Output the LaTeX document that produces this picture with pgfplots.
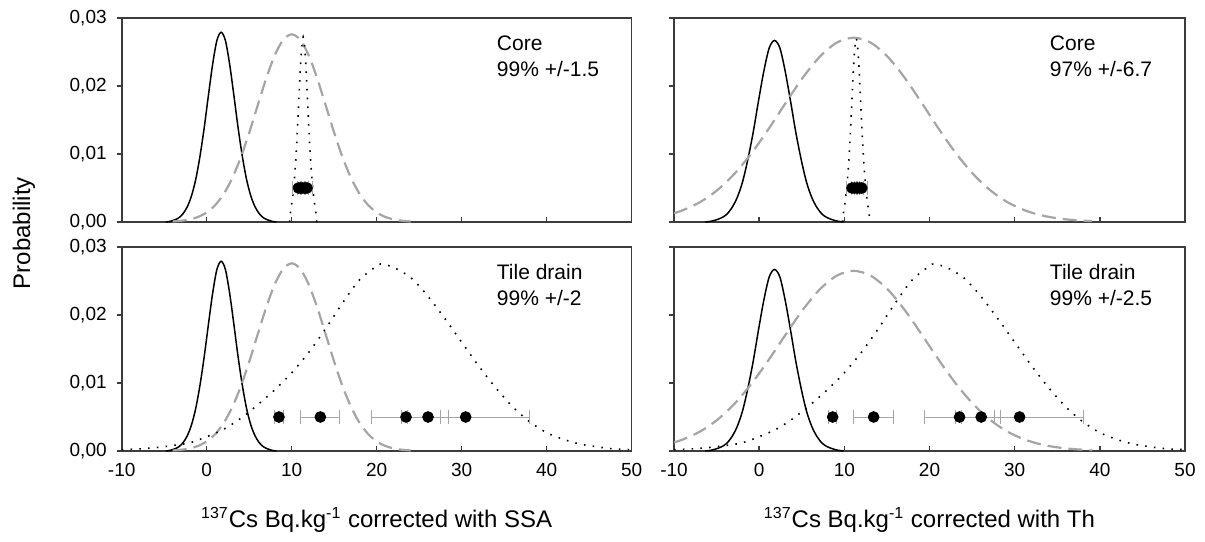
\documentclass[border=0pt]{standalone}
\usepackage{fontspec}
\setmainfont{Liberation Sans}
\usepackage{pgfplots}
\pgfplotsset{compat=1.18}
\definecolor{axisgray}{RGB}{60,60,60}
\definecolor{dashgray}{RGB}{165,165,165}
\definecolor{errgray}{RGB}{165,165,165}
\tikzset{ann/.style={anchor=base west, font=\fontsize{10.5}{12}\selectfont, inner sep=0pt}}
\pgfplotsset{
  panel/.style={
    scale only axis, width=255pt, height=102pt,
    xmin=-10, xmax=50, ymin=0, ymax=0.03,
    xtick={-10,0,10,20,30,40,50}, ytick={0,0.01,0.02,0.03},
    scaled y ticks=false,
    tick align=inside, xtick pos=bottom, ytick pos=left,
    major tick length=2.5pt,
    ytick style={xshift=-2.5pt},
    axis line style={draw=axisgray, line width=0.8pt},
    tick style={draw=axisgray, line width=0.8pt},
    /pgf/number format/assume math mode=true,
    yticklabel style={/pgf/number format/fixed, /pgf/number format/fixed zerofill, /pgf/number format/precision=2, /pgf/number format/use comma, xshift=-4pt},
    xticklabel style={/pgf/number format/fixed, yshift=-2.5pt},
    ticklabel style={font=\fontsize{9.5}{11}\selectfont},
    clip=true,
  },
  solidc/.style={black, line width=0.75pt, smooth, no marks},
  dashc/.style={dashgray, line width=1.1pt, dash pattern=on 7pt off 3.5pt, smooth, no marks},
  dotc/.style={black, line width=0.8pt, dash pattern=on 0.8pt off 3.6pt, smooth, no marks},
  dots/.style={only marks, mark=*, mark size=2.7pt, black,
    error bars/.cd, x dir=both, x explicit,
    error bar style={draw=errgray, line width=0.5pt},
    error mark options={rotate=90, draw=errgray, mark size=3.7pt, line width=0.5pt}},
}
\begin{document}
\begin{tikzpicture}
\useasboundingbox (0,0) rectangle (602.5pt,-270.5pt);
% ---------------- top left
\begin{axis}[panel, at={(60.85pt,-111pt)}, anchor=south west, xticklabels={}]
\addplot[solidc] coordinates {(-4.8,0) (-4.3,0.0001) (-3.8,0.0003) (-3.3,0.0006) (-2.8,0.0012) (-2.3,0.0022) (-1.8,0.0038) (-1.3,0.0062) (-0.8,0.0096) (-0.3,0.0138) (0.2,0.0186) (0.7,0.0232) (1.2,0.0267) (1.7,0.0279) (2.2,0.0267) (2.7,0.0232) (3.2,0.0186) (3.7,0.0138) (4.2,0.0096) (4.7,0.0062) (5.2,0.0038) (5.7,0.0022) (6.2,0.0012) (6.7,0.0006) (7.2,0.0003) (7.7,0.0001) (8.2,0)};
\addplot[dashc] coordinates {(-4,0.00008) (-3,0.00018) (-2,0.00038) (-1,0.00075) (0,0.00141) (1,0.00248) (2,0.00411) (3,0.00643) (4,0.00946) (5,0.01312) (6,0.01715) (7,0.02112) (8,0.02450) (9,0.02679) (10,0.0276) (11,0.02679) (12,0.02450) (13,0.02112) (14,0.01715) (15,0.01312) (16,0.00946) (17,0.00643) (18,0.00411) (19,0.00248) (20,0.00141) (21,0.00075) (22,0.00038) (23,0.00018) (24,0.00008)};
\addplot[dotc] coordinates {(9.75,0) (9.85,0.00136) (10.1,0.00354) (10.35,0.0068) (10.6,0.0117) (10.85,0.01822) (11.1,0.02448) (11.35,0.0272) (11.6,0.02448) (11.85,0.01822) (12.1,0.0117) (12.35,0.0068) (12.6,0.00354) (12.85,0.00136) (12.95,0)};
\addplot[dots] table[x=x, y=y, x error=e] {
x y e
10.8 0.005 0.7
11.05 0.005 0.4
11.3 0.005 0.3
11.55 0.005 0.4
11.8 0.005 0.7
};
\node[ann] at (axis cs:34.1,0.0252) {Core};
\node[ann] at (axis cs:34.1,0.02147) {99\% +/-1.5};
\end{axis}
% ---------------- top right
\begin{axis}[panel, width=255.5pt, at={(337pt,-111pt)}, anchor=south west, xticklabels={}, yticklabels={}]
\addplot[solidc] coordinates {(-6.33,0) (-5.7,0.0001) (-5.08,0.0003) (-4.45,0.0006) (-3.83,0.0011) (-3.2,0.0021) (-2.58,0.0036) (-1.95,0.0059) (-1.33,0.0092) (-0.7,0.0132) (-0.08,0.0178) (0.55,0.0222) (1.18,0.0256) (1.8,0.0267) (2.43,0.0256) (3.05,0.0222) (3.68,0.0178) (4.3,0.0132) (4.93,0.0092) (5.55,0.0059) (6.18,0.0036) (6.8,0.0021) (7.43,0.0011) (8.05,0.0006) (8.68,0.0003) (9.3,0.0001) (9.93,0)};
\addplot[dashc] coordinates {(-10,0.00129) (-8.9,0.00176) (-6.9,0.00295) (-4.9,0.00470) (-2.9,0.00709) (-0.9,0.01012) (1.1,0.01367) (3.1,0.01749) (5.1,0.02119) (7.1,0.02429) (9.1,0.02637) (11.1,0.0271) (13.1,0.02637) (15.1,0.02429) (17.1,0.02119) (19.1,0.01749) (21.1,0.01367) (23.1,0.01012) (25.1,0.00709) (27.1,0.00470) (29.1,0.00295) (31.1,0.00176) (33.1,0.00099) (35.1,0.00053) (37.1,0.00027) (39.1,0.00013)};
\addplot[dotc] coordinates {(9.8,0) (9.9,0.00135) (10.15,0.00351) (10.4,0.00675) (10.65,0.01161) (10.9,0.01809) (11.15,0.0243) (11.4,0.027) (11.65,0.0243) (11.9,0.01809) (12.15,0.01161) (12.4,0.00675) (12.65,0.00351) (12.9,0.00135) (13.0,0)};
\addplot[dots] table[x=x, y=y, x error=e] {
x y e
10.9 0.005 0.65
11.2 0.005 0.4
11.5 0.005 0.3
11.8 0.005 0.4
12.05 0.005 0.65
};
\node[ann] at (axis cs:34.1,0.0252) {Core};
\node[ann] at (axis cs:34.1,0.02147) {97\% +/-6.7};
\end{axis}
% ---------------- bottom left
\begin{axis}[panel, at={(60.85pt,-225.5pt)}, anchor=south west]
\addplot[solidc] coordinates {(-4.8,0) (-4.3,0.0001) (-3.8,0.0003) (-3.3,0.0006) (-2.8,0.0012) (-2.3,0.0022) (-1.8,0.0038) (-1.3,0.0062) (-0.8,0.0096) (-0.3,0.0138) (0.2,0.0186) (0.7,0.0232) (1.2,0.0267) (1.7,0.0279) (2.2,0.0267) (2.7,0.0232) (3.2,0.0186) (3.7,0.0138) (4.2,0.0096) (4.7,0.0062) (5.2,0.0038) (5.7,0.0022) (6.2,0.0012) (6.7,0.0006) (7.2,0.0003) (7.7,0.0001) (8.2,0)};
\addplot[dashc] coordinates {(-4,0.00008) (-3,0.00018) (-2,0.00038) (-1,0.00075) (0,0.00141) (1,0.00248) (2,0.00411) (3,0.00643) (4,0.00946) (5,0.01312) (6,0.01715) (7,0.02112) (8,0.02450) (9,0.02679) (10,0.0276) (11,0.02679) (12,0.02450) (13,0.02112) (14,0.01715) (15,0.01312) (16,0.00946) (17,0.00643) (18,0.00411) (19,0.00248) (20,0.00141) (21,0.00075) (22,0.00038) (23,0.00018) (24,0.00008)};
\addplot[dotc] coordinates {(-10,0.0002) (-8,0.0003) (-6,0.0005) (-4,0.0008) (-2,0.0012) (0,0.0021) (2,0.0032) (4,0.0048) (6,0.0068) (8,0.0090) (10,0.0115) (12,0.0145) (14,0.0180) (16,0.0218) (18,0.0252) (20,0.0272) (20.5,0.0275) (22,0.0270) (24,0.0255) (26,0.0228) (28,0.0195) (30,0.0160) (32,0.0125) (34,0.0093) (36,0.0065) (38,0.0043) (40,0.0027) (42,0.0017) (44,0.0010) (46,0.0006) (48,0.0003) (50,0.0002)};
\addplot[dots] table[x=x, y=y, x error=e] {
x y e
8.5 0.005 0.5
13.37 0.005 2.3
23.45 0.005 4.1
26.04 0.005 2.36
30.47 0.005 7.5
};
\node[ann] at (axis cs:34.1,0.0252) {Tile drain};
\node[ann] at (axis cs:34.1,0.02147) {99\% +/-2};
\end{axis}
% ---------------- bottom right
\begin{axis}[panel, width=255.5pt, at={(337pt,-225.5pt)}, anchor=south west, yticklabels={}]
\addplot[solidc] coordinates {(-6.33,0) (-5.7,0.0001) (-5.08,0.0003) (-4.45,0.0006) (-3.83,0.0011) (-3.2,0.0021) (-2.58,0.0036) (-1.95,0.0059) (-1.33,0.0092) (-0.7,0.0132) (-0.08,0.0178) (0.55,0.0222) (1.18,0.0256) (1.8,0.0267) (2.43,0.0256) (3.05,0.0222) (3.68,0.0178) (4.3,0.0132) (4.93,0.0092) (5.55,0.0059) (6.18,0.0036) (6.8,0.0021) (7.43,0.0011) (8.05,0.0006) (8.68,0.0003) (9.3,0.0001) (9.93,0)};
\addplot[dashc] coordinates {(-10,0.00126) (-8.9,0.00172) (-6.9,0.00289) (-4.9,0.00460) (-2.9,0.00694) (-0.9,0.00990) (1.1,0.01337) (3.1,0.01711) (5.1,0.02072) (7.1,0.02375) (9.1,0.02578) (11.1,0.0265) (13.1,0.02578) (15.1,0.02375) (17.1,0.02072) (19.1,0.01711) (21.1,0.01337) (23.1,0.00990) (25.1,0.00694) (27.1,0.00460) (29.1,0.00289) (31.1,0.00172) (33.1,0.00097) (35.1,0.00052) (37.1,0.00026) (39.1,0.00012)};
\addplot[dotc] coordinates {(-10,0.0002) (-8,0.0003) (-6,0.0005) (-4,0.0008) (-2,0.0012) (0,0.0021) (2,0.0032) (4,0.0048) (6,0.0068) (8,0.0090) (10,0.0115) (12,0.0145) (14,0.0180) (16,0.0218) (18,0.0252) (20,0.0272) (20.5,0.0275) (22,0.0270) (24,0.0255) (26,0.0228) (28,0.0195) (30,0.0160) (32,0.0125) (34,0.0093) (36,0.0065) (38,0.0043) (40,0.0027) (42,0.0017) (44,0.0010) (46,0.0006) (48,0.0003) (50,0.0002)};
\addplot[dots] table[x=x, y=y, x error=e] {
x y e
8.63 0.005 0.5
13.44 0.005 2.35
23.53 0.005 4.1
26.07 0.005 2.3
30.58 0.005 7.47
};
\node[ann] at (axis cs:34.1,0.0252) {Tile drain};
\node[ann] at (axis cs:34.1,0.02147) {99\% +/-2.5};
\end{axis}
% ---------------- labels
\node[anchor=base, font=\fontsize{12}{14}\selectfont] at (188.35pt,-263.5pt) {\textsuperscript{137}Cs Bq.kg\textsuperscript{-1} corrected with SSA};
\node[anchor=base, font=\fontsize{12}{14}\selectfont] at (464.75pt,-263.5pt) {\textsuperscript{137}Cs Bq.kg\textsuperscript{-1} corrected with Th};
\node[rotate=90, font=\fontsize{12}{14}\selectfont] at (12pt,-116.5pt) {Probability};
\end{tikzpicture}
\end{document}
